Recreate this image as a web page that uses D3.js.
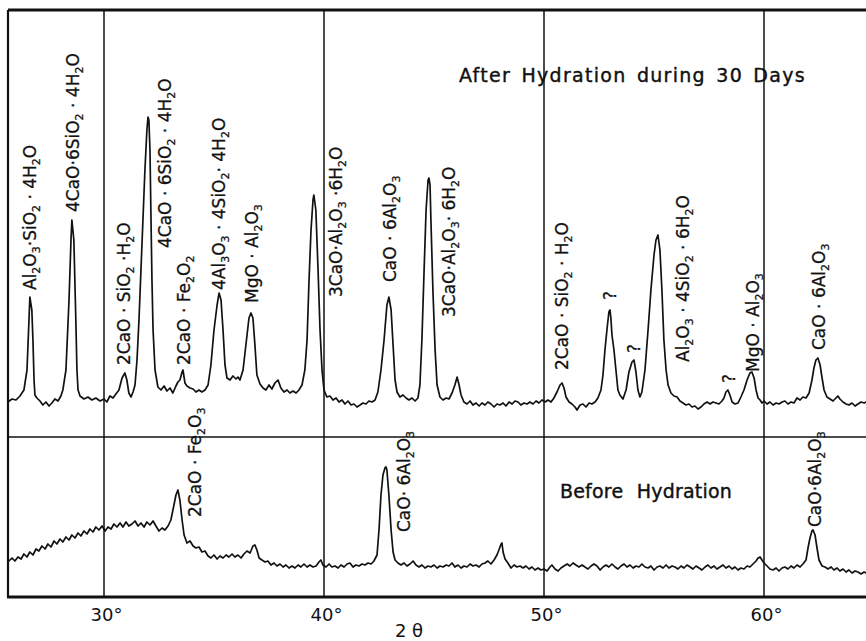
<!DOCTYPE html>
<html>
<head>
<meta charset="utf-8">
<script src="https://cdn.jsdelivr.net/npm/d3@7"></script>
<style>
  body { margin: 0; background: #fff; }
  svg { display: block; }
  text { font-family: "DejaVu Sans", sans-serif; fill: #111; }
</style>
</head>
<body>
<script>
// X-ray diffraction traces, 2θ in degrees vs. counts (arbitrary units)
var afterTrace = [
  [25.63,35],[25.82,38],[26.00,37],[26.18,41],[26.36,47],[26.50,67],[26.59,117],[26.63,140],[26.72,127],[26.77,97],
  [26.82,57],[26.86,42],[26.95,39],[27.09,36],[27.22,32],[27.36,35],[27.50,31],[27.63,34],[27.77,38],[27.91,36],
  [28.04,41],[28.13,47],[28.27,67],[28.41,137],[28.50,197],[28.54,217],[28.63,197],[28.72,117],[28.77,67],[28.82,47],
  [28.91,41],[29.09,38],[29.27,40],[29.45,37],[29.63,39],[29.82,36],[30.00,38],[30.13,35],[30.27,41],[30.41,39],
  [30.54,43],[30.68,47],[30.82,59],[30.95,64],[31.04,57],[31.13,44],[31.23,40],[31.32,45],[31.41,52],[31.50,77],
  [31.59,117],[31.68,167],[31.77,217],[31.86,267],[31.95,307],[32.00,320],[32.04,317],[32.09,287],[32.13,227],[32.18,157],
  [32.23,107],[32.32,67],[32.45,50],[32.59,47],[32.73,51],[32.86,46],[33.00,49],[33.13,44],[33.27,51],[33.36,55],
  [33.45,57],[33.55,65],[33.59,67],[33.68,54],[33.77,51],[33.91,49],[34.05,48],[34.18,45],[34.32,47],[34.45,45],
  [34.59,47],[34.73,52],[34.86,72],[35.00,107],[35.14,132],[35.23,144],[35.32,137],[35.41,107],[35.50,72],[35.59,59],
  [35.73,57],[35.86,61],[36.00,58],[36.09,60],[36.18,57],[36.32,67],[36.45,92],[36.59,119],[36.68,124],[36.77,119],
  [36.86,92],[36.95,62],[37.09,53],[37.23,49],[37.36,47],[37.50,52],[37.63,48],[37.77,54],[37.91,57],[38.04,49],
  [38.18,45],[38.32,47],[38.45,44],[38.59,46],[38.73,44],[38.86,47],[39.00,52],[39.13,67],[39.23,97],[39.32,157],
  [39.41,207],[39.50,237],[39.54,242],[39.63,227],[39.73,167],[39.82,107],[39.91,67],[40.00,47],[40.13,40],[40.27,41],
  [40.41,37],[40.55,39],[40.68,35],[40.82,37],[40.95,33],[41.09,36],[41.23,32],[41.36,33],[41.50,30],[41.64,32],
  [41.77,34],[41.91,33],[42.04,36],[42.18,35],[42.32,37],[42.45,45],[42.59,67],[42.73,97],[42.86,132],[42.95,140],
  [43.05,127],[43.14,92],[43.23,57],[43.32,45],[43.45,40],[43.59,42],[43.73,39],[43.86,37],[44.00,39],[44.14,36],
  [44.27,39],[44.36,52],[44.45,97],[44.55,167],[44.64,227],[44.73,257],[44.77,259],[44.82,252],[44.86,217],[44.95,147],
  [45.05,87],[45.14,52],[45.27,40],[45.41,37],[45.55,39],[45.68,38],[45.82,44],[45.95,52],[46.05,60],[46.14,52],
  [46.23,42],[46.36,35],[46.50,33],[46.64,36],[46.77,32],[46.91,34],[47.05,31],[47.18,34],[47.32,32],[47.45,35],
  [47.59,33],[47.73,30],[47.86,33],[48.00,32],[48.14,34],[48.27,31],[48.41,35],[48.55,33],[48.68,36],[48.82,35],
  [48.95,32],[49.09,34],[49.23,33],[49.36,35],[49.50,33],[49.64,36],[49.77,34],[49.91,37],[50.05,35],[50.18,37],
  [50.32,35],[50.45,39],[50.59,45],[50.73,52],[50.82,54],[50.91,49],[51.00,40],[51.14,35],[51.27,33],[51.41,30],
  [51.50,27],[51.64,32],[51.77,33],[51.91,30],[52.05,34],[52.18,33],[52.32,35],[52.45,39],[52.59,47],[52.68,62],
  [52.77,87],[52.86,107],[52.95,125],[53.00,127],[53.04,119],[53.09,102],[53.18,87],[53.27,67],[53.36,47],[53.45,42],
  [53.59,38],[53.73,47],[53.86,65],[54.00,75],[54.09,77],[54.18,65],[54.27,47],[54.36,40],[54.45,45],[54.59,67],
  [54.73,107],[54.86,147],[55.00,182],[55.09,197],[55.18,202],[55.27,187],[55.36,147],[55.45,97],[55.55,67],[55.64,52],
  [55.77,44],[55.91,41],[56.05,40],[56.18,36],[56.32,34],[56.45,32],[56.59,33],[56.73,30],[56.86,31],[57.00,28],
  [57.14,30],[57.27,33],[57.41,35],[57.55,33],[57.68,35],[57.82,34],[57.95,33],[58.09,36],[58.18,39],[58.27,45],
  [58.36,47],[58.45,42],[58.55,35],[58.68,33],[58.82,34],[58.95,40],[59.09,47],[59.23,57],[59.36,64],[59.45,65],
  [59.55,59],[59.64,47],[59.73,39],[59.82,37],[59.91,34],[60.00,36],[60.14,33],[60.27,35],[60.41,32],[60.55,34],
  [60.68,33],[60.82,35],[60.95,36],[61.09,33],[61.23,35],[61.36,34],[61.50,39],[61.64,37],[61.77,40],[61.91,39],
  [62.05,44],[62.18,57],[62.27,69],[62.36,77],[62.45,79],[62.55,72],[62.64,59],[62.73,47],[62.86,40],[63.00,38],
  [63.14,36],[63.27,39],[63.36,41],[63.45,38],[63.59,35],[63.73,33],[63.86,32],[64.00,34],[64.14,31],[64.27,33],
  [64.41,35],[64.55,34],[64.64,35]
];

var beforeTrace = [
  [25.63,35],[25.82,39],[25.95,36],[26.09,40],[26.23,38],[26.36,43],[26.50,40],[26.63,45],[26.77,42],[26.91,48],
  [27.04,46],[27.18,51],[27.32,48],[27.45,53],[27.59,50],[27.73,56],[27.86,53],[28.00,58],[28.13,55],[28.27,60],
  [28.41,57],[28.54,62],[28.68,59],[28.82,64],[28.95,61],[29.09,66],[29.23,63],[29.36,68],[29.50,65],[29.63,70],
  [29.77,67],[29.91,71],[30.05,66],[30.18,70],[30.32,68],[30.45,73],[30.59,70],[30.73,74],[30.86,70],[31.00,75],
  [31.13,71],[31.27,73],[31.41,76],[31.55,71],[31.68,74],[31.82,70],[31.95,75],[32.09,72],[32.23,76],[32.36,71],
  [32.50,66],[32.64,69],[32.77,67],[32.91,71],[33.04,77],[33.18,92],[33.27,102],[33.36,107],[33.45,97],[33.55,77],
  [33.64,62],[33.77,54],[33.91,56],[34.05,51],[34.18,49],[34.32,50],[34.45,45],[34.59,46],[34.73,41],[34.86,39],
  [35.00,42],[35.14,38],[35.27,41],[35.41,39],[35.55,42],[35.68,40],[35.82,43],[35.95,40],[36.09,42],[36.23,39],
  [36.36,43],[36.50,46],[36.64,44],[36.77,51],[36.86,52],[36.95,47],[37.05,39],[37.18,37],[37.32,35],[37.45,36],
  [37.59,32],[37.73,34],[37.86,31],[38.00,33],[38.14,30],[38.27,32],[38.41,29],[38.55,31],[38.68,29],[38.82,32],
  [38.95,30],[39.09,33],[39.23,30],[39.36,32],[39.50,30],[39.64,31],[39.77,35],[39.86,37],[39.95,32],[40.09,30],
  [40.23,33],[40.36,30],[40.50,31],[40.64,29],[40.77,32],[40.91,30],[41.05,33],[41.18,34],[41.32,30],[41.45,32],
  [41.59,31],[41.73,33],[41.86,32],[42.00,34],[42.14,33],[42.27,36],[42.41,42],[42.50,67],[42.59,102],[42.68,122],
  [42.77,129],[42.82,130],[42.86,127],[42.95,102],[43.05,67],[43.14,45],[43.23,37],[43.36,34],[43.50,32],[43.64,34],
  [43.77,31],[43.91,33],[44.05,36],[44.18,32],[44.32,30],[44.45,32],[44.59,29],[44.73,31],[44.86,30],[45.00,32],
  [45.14,29],[45.27,31],[45.41,30],[45.55,32],[45.68,31],[45.82,34],[45.95,30],[46.09,32],[46.23,29],[46.36,31],
  [46.50,30],[46.64,33],[46.77,31],[46.91,32],[47.05,30],[47.18,33],[47.32,34],[47.45,36],[47.59,33],[47.73,37],
  [47.86,42],[47.95,47],[48.05,53],[48.09,54],[48.14,45],[48.23,38],[48.36,34],[48.50,29],[48.64,32],[48.77,30],
  [48.91,31],[49.05,29],[49.18,31],[49.32,28],[49.45,30],[49.59,27],[49.73,29],[49.86,27],[50.00,28],[50.14,26],
  [50.27,30],[50.36,32],[50.50,28],[50.64,26],[50.77,29],[50.91,31],[51.05,33],[51.18,31],[51.32,34],[51.45,32],
  [51.59,30],[51.73,32],[51.86,30],[52.00,28],[52.14,31],[52.27,33],[52.41,31],[52.55,27],[52.68,30],[52.82,32],
  [52.95,30],[53.09,33],[53.23,30],[53.36,28],[53.50,31],[53.64,33],[53.77,30],[53.91,32],[54.05,29],[54.18,31],
  [54.32,30],[54.45,33],[54.59,30],[54.73,29],[54.86,31],[55.00,27],[55.14,30],[55.27,31],[55.41,29],[55.55,32],
  [55.68,29],[55.82,31],[55.95,30],[56.09,28],[56.23,31],[56.36,29],[56.50,32],[56.64,30],[56.77,28],[56.91,31],
  [57.05,29],[57.18,27],[57.32,30],[57.45,32],[57.59,29],[57.73,31],[57.86,28],[58.00,30],[58.14,32],[58.27,29],
  [58.41,31],[58.55,28],[58.68,30],[58.82,27],[58.95,29],[59.09,28],[59.23,31],[59.36,30],[59.50,33],[59.64,36],
  [59.73,39],[59.82,40],[59.91,37],[60.00,34],[60.14,31],[60.27,28],[60.41,27],[60.55,29],[60.68,26],[60.82,29],
  [60.95,30],[61.09,28],[61.23,31],[61.36,29],[61.50,32],[61.64,30],[61.77,33],[61.91,37],[62.00,49],[62.09,59],
  [62.18,66],[62.23,67],[62.32,62],[62.41,49],[62.50,37],[62.64,31],[62.77,30],[62.91,28],[63.05,30],[63.18,27],
  [63.32,29],[63.45,26],[63.59,28],[63.73,25],[63.86,27],[64.00,24],[64.14,26],[64.27,25],[64.41,23],[64.55,25],
  [64.64,24]
];

// peak assignments: [2θ, counts where label starts, text]  ("_" marks a subscript)
var afterLabels = [
  [26.63, 147, "Al_2O_3·SiO_2 · 4H_2O"],
  [28.59, 225, "4CaO·6SiO_2 · 4H_2O"],
  [30.91, 72,  "2CaO · SiO_2 ·H_2O"],
  [32.77, 189, "4CaO · 6SiO_2 · 4H_2O"],
  [33.64, 72,  "2CaO · Fe_2O_2"],
  [35.23, 147, "4Al_3O_3 · 4SiO_2· 4H_2O"],
  [36.73, 134, "MgO · Al_2O_3"],
  [40.55, 140, "3CaO·Al_2O_3 ·6H_2O"],
  [43.00, 155, "CaO · 6Al_2O_3"],
  [45.68, 120, "3CaO·Al_2O_3· 6H_2O"],
  [50.82, 67,  "2CaO · SiO_2 · H_2O"],
  [53.00, 137, "?"],
  [54.09, 84,  "?"],
  [56.32, 75,  "Al_2O_3 · 4SiO_2 · 6H_2O"],
  [58.41, 54,  "?"],
  [59.50, 65,  "MgO · Al_2O_3"],
  [62.50, 87,  "CaO · 6Al_2O_3"]
];
var beforeLabels = [
  [34.14, 80, "2CaO · Fe_2O_3"],
  [43.64, 65, "CaO· 6Al_2O_3"],
  [62.32, 70, "CaO·6Al_2O_3"]
];

var gridTheta = [30, 40, 50, 60];
var afterTitle = "After Hydration during 30 Days";
var beforeTitle = "Before Hydration";

var width = 866;
var height = 641;
var frameLeft = 8, frameRight = 866, frameTop = 10, frameMid = 437, frameBottom = 597;

var svg = d3.select('body').append('svg')
    .attr('width', width)
    .attr('height', height);

var x = d3.scaleLinear().domain([30, 60]).range([104, 764]);
var yAfter = d3.scaleLinear().domain([0, 427]).range([frameMid, frameTop]);
var yBefore = d3.scaleLinear().domain([0, 160]).range([frameBottom, frameMid]);

var ink = '#111';

// grid lines
svg.selectAll('line.grid').data(gridTheta).enter().append('line')
  .attr('class', 'grid')
  .attr('x1', function(d) { return x(d); })
  .attr('x2', function(d) { return x(d); })
  .attr('y1', frameTop)
  .attr('y2', frameBottom)
  .attr('stroke', ink)
  .attr('stroke-width', 1.5);

// frame
svg.append('line').attr('x1', frameLeft).attr('x2', frameRight).attr('y1', frameTop).attr('y2', frameTop)
  .attr('stroke', ink).attr('stroke-width', 3);
svg.append('line').attr('x1', frameLeft).attr('x2', frameLeft).attr('y1', frameTop).attr('y2', frameBottom)
  .attr('stroke', ink).attr('stroke-width', 2.2);
svg.append('line').attr('x1', frameLeft).attr('x2', frameRight).attr('y1', frameMid).attr('y2', frameMid)
  .attr('stroke', ink).attr('stroke-width', 1.5);

// traces
var lineAfter = d3.line()
    .x(function(d) { return x(d[0]); })
    .y(function(d) { return yAfter(d[1]); });
var lineBefore = d3.line()
    .x(function(d) { return x(d[0]); })
    .y(function(d) { return yBefore(d[1]); });

svg.append('path').attr('d', lineAfter(afterTrace))
  .attr('fill', 'none').attr('stroke', ink).attr('stroke-width', 1.7)
  .attr('stroke-linejoin', 'round');
svg.append('path').attr('d', lineBefore(beforeTrace))
  .attr('fill', 'none').attr('stroke', ink).attr('stroke-width', 1.7)
  .attr('stroke-linejoin', 'round');

// bottom axis
var axis = d3.axisBottom(x)
    .tickValues(gridTheta)
    .tickSize(0)
    .tickPadding(11)
    .tickFormat(function(d) { return d + '°'; });

var gAxis = svg.append('g').attr('transform', 'translate(0,' + frameBottom + ')').call(axis);
gAxis.select('.domain').remove();
gAxis.selectAll('text')
  .attr('dx', 2)
  .style('font-family', '"DejaVu Sans", sans-serif')
  .style('font-size', '18px')
  .attr('fill', ink);

svg.append('line').attr('x1', frameLeft - 1).attr('x2', frameRight).attr('y1', frameBottom).attr('y2', frameBottom)
  .attr('stroke', ink).attr('stroke-width', 3);

svg.append('text')
  .attr('x', 409).attr('y', 637)
  .attr('text-anchor', 'middle')
  .style('font-size', '18px')
  .text('2  θ');

// titles: slightly spaced letters, wider word gaps up to the measured width
function addTitle(str, tx, ty, size, spacing, w) {
  var t = svg.append('text')
    .attr('x', tx).attr('y', ty)
    .style('font-size', size + 'px')
    .style('letter-spacing', spacing + 'px')
    .attr('stroke', ink).attr('stroke-width', 0.4)
    .text(str);
  var gaps = str.split(' ').length - 1;
  var natural = t.node().getComputedTextLength();
  if (gaps > 0 && natural < w) t.style('word-spacing', ((w - natural) / gaps) + 'px');
}
addTitle(afterTitle, 459, 82, 19, 1.3, 347);
addTitle(beforeTitle, 560, 498, 19, 0.2, 172);

// rotated peak labels; runs of normal text and subscripts become tspans
function addLabel(d, yScale) {
  var t = svg.append('text')
    .attr('transform', 'translate(' + x(d[0]) + ',' + yScale(d[1]) + ') rotate(-90)')
    .attr('dy', '0.36em')
    .attr('stroke', ink).attr('stroke-width', 0.3)
    .style('font-size', '17px');
  var parts = d[2].split('_');
  var shifted = false;
  parts.forEach(function(p, i) {
    if (i === 0) {
      if (p) t.append('tspan').text(p);
      return;
    }
    t.append('tspan').attr('dy', shifted ? null : 4).style('font-size', '11px').text(p[0]);
    shifted = true;
    var rest = p.slice(1);
    if (rest) {
      t.append('tspan').attr('dy', -4).text(rest);
      shifted = false;
    }
  });
}

afterLabels.forEach(function(d) { addLabel(d, yAfter); });
beforeLabels.forEach(function(d) { addLabel(d, yBefore); });
</script>
</body>
</html>
